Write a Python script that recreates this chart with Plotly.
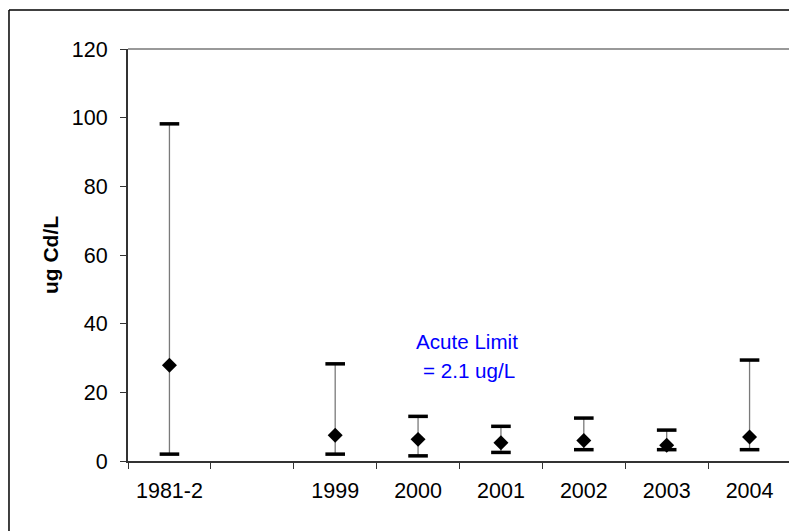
import plotly.graph_objects as go

categories = ["1981-2", " ", "1999", "2000", "2001", "2002", "2003", "2004"]
mean_vals = [27.9, None, 7.5, 6.3, 5.3, 6.0, 4.6, 7.0]
max_vals = [98.2, None, 28.3, 13.0, 10.1, 12.5, 9.0, 29.4]
min_vals = [2.0, None, 2.0, 1.5, 2.5, 3.3, 3.3, 3.3]

err_plus = [None if m is None else mx - m for m, mx in zip(mean_vals, max_vals)]
err_minus = [None if m is None else m - mn for m, mn in zip(mean_vals, min_vals)]

FONT = "Liberation Sans, Arial, sans-serif"

fig = go.Figure()

# stems
fig.add_trace(go.Scatter(
    x=categories, y=mean_vals, mode="markers",
    marker=dict(size=1, color="rgba(0,0,0,0)"),
    error_y=dict(type="data", symmetric=False, array=err_plus, arrayminus=err_minus,
                 color="#7a7a7a", thickness=1.3, width=0),
    showlegend=False, hoverinfo="skip"))

# caps
fig.add_trace(go.Scatter(
    x=categories + categories, y=max_vals + min_vals, mode="markers",
    marker=dict(symbol="line-ew", size=14, line=dict(width=3.5, color="black")),
    showlegend=False))

# means
fig.add_trace(go.Scatter(
    x=categories, y=mean_vals, mode="markers",
    marker=dict(symbol="diamond", size=11.5, color="black", line=dict(width=0)),
    showlegend=False))

fig.update_layout(
    width=797, height=531,
    margin=dict(l=120, r=14, t=41, b=78),
    paper_bgcolor="white", plot_bgcolor="white",
    font=dict(family=FONT, size=21.5, color="black"),
    showlegend=False,
    xaxis=dict(type="category", categoryorder="array", categoryarray=categories,
               range=[-0.5, 7.5], tickson="boundaries", ticks="outside", ticklen=6,
               tickwidth=1, tickcolor="#333", showline=True, linecolor="#333", linewidth=2,
               showgrid=False, zeroline=False, tickfont=dict(size=21.5),
               ticklabelstandoff=9),
    yaxis=dict(range=[0, 120], dtick=20, ticks="outside", ticklen=6, tickwidth=1,
               tickcolor="#333", showline=True, linecolor="#333", linewidth=2,
               showgrid=False, zeroline=False, tickfont=dict(size=21.5),
               ticklabelstandoff=8,
               title=dict(text="<b>ug Cd/L</b>", font=dict(size=21), standoff=7)),
    shapes=[
        dict(type="line", xref="paper", yref="paper", x0=0, x1=1, y0=1, y1=1,
             line=dict(color="#999999", width=2)),
        dict(type="line", xref="paper", yref="paper", x0=1, x1=1, y0=0, y1=1,
             line=dict(color="#999999", width=2)),
        dict(type="line", xref="paper", yref="paper", x0=-0.1795, x1=-0.1795,
             y0=-0.3, y1=1.0947, line=dict(color="black", width=1.5)),
        dict(type="line", xref="paper", yref="paper", x0=-0.1795, x1=1.1,
             y0=1.0947, y1=1.0947, line=dict(color="black", width=1.5)),
    ],
    annotations=[
        dict(text="Acute Limit", xref="paper", yref="y", x=0.511, y=34.7,
             showarrow=False, font=dict(size=20.6, color="#0000ff"),
             xanchor="center", yanchor="middle"),
        dict(text="= 2.1 ug/L", xref="paper", yref="y", x=0.515, y=26.5,
             showarrow=False, font=dict(size=20.6, color="#0000ff"),
             xanchor="center", yanchor="middle"),
    ],
)

fig.write_html("out.html")
